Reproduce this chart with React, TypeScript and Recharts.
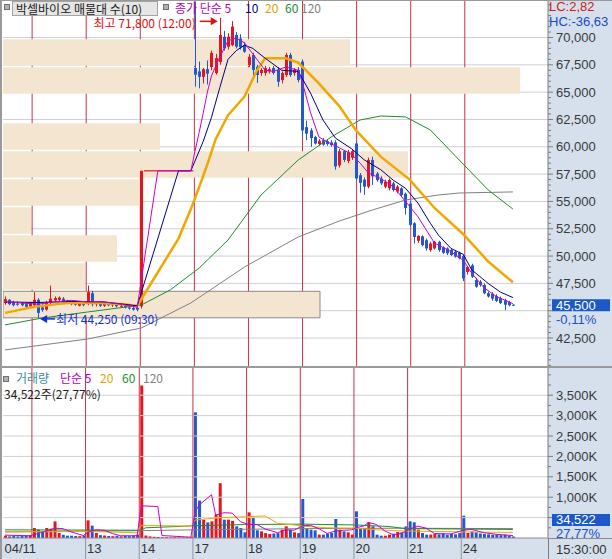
import React from 'react';
import {
    ComposedChart, BarChart, Bar, Line, Cell, XAxis, YAxis, ReferenceLine, ReferenceDot,
} from 'recharts';

// ─── Colours / fonts ───────────────────────────────────────────────────────────
const UP = '#E5141E';
const DOWN = '#2158CF';
const DAY_LINE = '#C8324A';
const GRID = '#D0D0D0';
const PANEL = '#D5E0EC';
const BAND = '#F4E5D1';
const AXIS = '#7C7C7C';
const C_MA5 = '#CC00CC';
const C_MA10 = '#000080';
const C_MA20 = '#F0A800';
const C_MA60 = '#1E8C32';
const C_MA120 = '#808080';
const NUM_FONT = "'Liberation Sans Narrow', 'Liberation Sans', Arial, sans-serif";
const KR_FONT = "'Noto Sans CJK KR', 'Noto Sans', sans-serif";

// ─── 30-minute candles per day: [open, high, low, close] ──────────────────────
const c0411 = [
    [45700, 46300, 45550, 46050], [46000, 46050, 45500, 45600], [45800, 45900, 45400, 45500],
    [45650, 45850, 45450, 45550], [45700, 45800, 45400, 45500], [45600, 45750, 45300, 45350],
    [45400, 45800, 45250, 45700],
];
const c0412 = [
    [45500, 46700, 45300, 46000], [46000, 46150, 44250, 44800], [45300, 45600, 44900, 45050],
    [45100, 45900, 45000, 45750], [45700, 47300, 45600, 46100], [45950, 46300, 45800, 46150],
    [46000, 46300, 45850, 46200], [46100, 46250, 45750, 45850], [45900, 46000, 45600, 45700],
    [45750, 45850, 45500, 45600], [45650, 45800, 45450, 45550], [45450, 45700, 45400, 45650],
    [45600, 45750, 45400, 45500],
];
const c0413 = [
    [45700, 47300, 45500, 46700], [46600, 46800, 45400, 45600], [45600, 45750, 45400, 45700],
    [45650, 45800, 45350, 45450], [45450, 45700, 45350, 45600], [45600, 45700, 45400, 45500],
    [45500, 45650, 45350, 45600], [45600, 45650, 45300, 45400], [45400, 45550, 45250, 45450],
    [45450, 45500, 45200, 45300], [45300, 45450, 45100, 45200], [45250, 45350, 45000, 45100],
    [45250, 45350, 44950, 45100],
];
const c0414 = [
    [45400, 57800, 45200, 57800], [57800, 57800, 57800, 57800], [57800, 57800, 57800, 57800],
    [57800, 57800, 57800, 57800], [57800, 57800, 57800, 57800], [57800, 57800, 57800, 57800],
    [57800, 57800, 57800, 57800], [57800, 57800, 57800, 57800], [57800, 57800, 57800, 57800],
    [57800, 57800, 57800, 57800], [57800, 57800, 57800, 57800], [57800, 57800, 57800, 57800],
    [57800, 57800, 57800, 57800],
];
const c0417 = [
    [67200, 73300, 65500, 66600], [66900, 67800, 65350, 66400], [66400, 67200, 65800, 67100],
    [67100, 67900, 65700, 66700], [67300, 68800, 67000, 68600], [66750, 68500, 66600, 68120],
    [67760, 71800, 67500, 70230], [70070, 70600, 68800, 69010], [69160, 70400, 68900, 70070],
    [69300, 71500, 69200, 71000], [70230, 70500, 69000, 69160], [69900, 70300, 68900, 69100],
    [69310, 69600, 68600, 68700],
];
const c0418 = [
    [67480, 68500, 67300, 68240], [68400, 68600, 66300, 67030], [67330, 67500, 65840, 66570],
    [66750, 67200, 66500, 67030], [66750, 67400, 66500, 67200], [66900, 67300, 66700, 67100],
    [67200, 67400, 66600, 66750], [67030, 67300, 65500, 65950], [66100, 66900, 65800, 66750],
    [66570, 68600, 66400, 68400], [68400, 68600, 66400, 66570], [66750, 67200, 66500, 67030],
    [67030, 67300, 65900, 66110],
];
const c0419 = [
    [67800, 68000, 60900, 61500], [61800, 62400, 60600, 61200], [61500, 61700, 60000, 60800],
    [60900, 61000, 60200, 60300], [60250, 60700, 60100, 60550], [60600, 60800, 60100, 60200],
    [60500, 60700, 60100, 60250], [60400, 60600, 60000, 60150], [60400, 60600, 57900, 58200],
    [58300, 59800, 58100, 59600], [59600, 59700, 58600, 58800], [58700, 59700, 58500, 59500],
    [59000, 59800, 58800, 59600],
];
const c0420 = [
    [60300, 60500, 56900, 57100], [57400, 57600, 55800, 56700], [57000, 57200, 55600, 56350],
    [56350, 59000, 56200, 58800], [58800, 59100, 56500, 57300], [57550, 57700, 56800, 56950],
    [57100, 57300, 56500, 56650], [56350, 57000, 56200, 56800], [56200, 57100, 56000, 56950],
    [56650, 56800, 55900, 56050], [55900, 56500, 55750, 56350], [56200, 56300, 55400, 55600],
    [55700, 55800, 53800, 54400],
];
const c0421 = [
    [54800, 55000, 52700, 52850], [53000, 53100, 51150, 51750], [51400, 51900, 51200, 51850],
    [51800, 51900, 50900, 51000], [51450, 51600, 50500, 50700], [50550, 51300, 50400, 51150],
    [50700, 51400, 50600, 51300], [51300, 51400, 50400, 50550], [50800, 50900, 50200, 50300],
    [50700, 50800, 50100, 50250], [50550, 50700, 50000, 50100], [50400, 50500, 49850, 49950],
    [50300, 50400, 49700, 49800],
];
const c0424 = [
    [50000, 50100, 47700, 47950], [48550, 49100, 48300, 49000], [49150, 49300, 48000, 48100],
    [47800, 48000, 47100, 47200], [47650, 47800, 47200, 47350], [47350, 47500, 46500, 46600],
    [46600, 46750, 46200, 46300], [46550, 46700, 45900, 46100], [46350, 46500, 45800, 45900],
    [46150, 46300, 45600, 45700], [45950, 46100, 45050, 45550], [45800, 45900, 45400, 45500],
    [45550, 45600, 45450, 45500],
];

// ─── Volume per bar, thousands of shares ───────────────────────────────────────
const v0411 = [57, 40, 57, 40, 50, 55, 65];
const v0412 = [245, 204, 163, 245, 230, 408, 122, 80, 57, 57, 50, 45, 60];
const v0413 = [433, 302, 122, 70, 60, 50, 45, 55, 40, 50, 45, 60, 80];
const v0414 = [3738, 60, 40, 30, 25, 20, 20, 15, 20, 15, 15, 20, 30];
const v0417 = [3080, 918, 449, 384, 408, 572, 1343, 449, 449, 420, 286, 245, 139];
const v0418 = [629, 515, 188, 163, 120, 100, 110, 120, 204, 286, 204, 139, 120];
const v0419 = [956, 220, 204, 188, 82, 82, 105, 122, 466, 204, 163, 139, 82];
const v0420 = [654, 245, 245, 384, 286, 82, 57, 57, 82, 105, 147, 139, 286];
const v0421 = [408, 384, 204, 122, 82, 82, 100, 90, 110, 80, 100, 90, 120];
const v0424 = [547, 122, 163, 139, 110, 100, 90, 80, 90, 70, 80, 60, 34.522];

const dayNames = ['04/11', '', '13', '14', '17', '18', '19', '20', '21', '24'];

// ─── Moving averages: [bar index, value] ───────────────────────────────────────
const ma5Pts = [
    [0, 45850], [4, 45700], [8, 45600], [12, 45800], [16, 45950], [20, 45800], [23, 45850], [27, 45650],
    [31, 45400], [32, 45300], [33, 47800], [37, 57800], [45, 57800], [46, 59600], [47, 61300], [48, 63100],
    [49, 65000], [50, 66500], [52, 68200], [54, 69700], [56, 69950], [58, 69500], [60, 68500], [63, 67000],
    [65, 66900], [68, 67300], [71, 67000], [72, 65900], [74, 63100], [76, 60900], [78, 60450], [81, 59900],
    [84, 59300], [86, 58500], [88, 57600], [91, 57100], [94, 56350], [97, 55000], [100, 53600], [102, 52400],
    [104, 51200], [108, 50400], [111, 49600], [113, 48450], [116, 47100], [119, 46300], [123, 45650],
];
const ma10Pts = [
    [0, 45800], [8, 45750], [16, 45850], [24, 45800], [32, 45450], [33, 46650], [42, 57800], [45, 57800],
    [46, 58700], [48, 60500], [50, 62700], [52, 65400], [54, 68000], [56, 68800], [58, 69300], [60, 69000],
    [63, 68100], [67, 67000], [71, 66900], [74, 64900], [77, 62450], [80, 60800], [84, 59800], [87, 58800],
    [91, 57900], [94, 56950], [97, 56200], [100, 54850], [103, 53000], [105, 51900], [108, 50700],
    [111, 50150], [113, 48750], [117, 47500], [120, 46700], [123, 46200],
];
const ma20Pts = [
    [0, 44800], [7, 45350], [15, 45700], [23, 45700], [29, 45600], [32, 45430], [33, 46050], [36, 47900],
    [39, 49750], [42, 51600], [45, 54300], [47, 56300], [49, 58400], [51, 60700], [54, 62900], [58, 64600],
    [61, 67000], [63, 68100], [68, 68100], [71, 67700], [76, 65800], [81, 63700], [85, 61500], [91, 59100],
    [98, 57000], [104, 54400], [111, 52000], [117, 49500], [123, 47600],
];
const ma60Pts = [
    [0, 43700], [9, 44330], [20, 44880], [33, 45520], [40, 46900], [47, 48900], [54, 51470], [62, 55590],
    [71, 58790], [79, 60900], [86, 62450], [91, 62820], [97, 62730], [103, 61540], [110, 58790],
    [117, 56050], [123, 54300],
];
const ma120Pts = [
    [0, 41410], [20, 42410], [33, 43420], [45, 45710], [58, 49000], [71, 51750], [81, 53210], [89, 54220],
    [97, 55130], [105, 55590], [110, 55770], [123, 55870],
];
const vma5Pts = [
    [0, 70], [6, 55], [8, 110], [10, 170], [12, 240], [14, 230], [16, 150], [19, 60], [20, 140], [22, 200],
    [24, 190], [26, 110], [28, 55], [32, 55], [33, 790], [37, 770], [38, 60], [45, 20], [46, 630], [47, 810],
    [50, 1060], [51, 560], [53, 620], [55, 610], [57, 400], [59, 330], [61, 330], [63, 220], [66, 130],
    [68, 200], [70, 190], [72, 300], [74, 310], [76, 230], [78, 110], [80, 170], [82, 190], [84, 200],
    [85, 250], [87, 300], [88, 380], [90, 330], [92, 170], [94, 80], [96, 110], [98, 220], [100, 290],
    [102, 240], [104, 110], [108, 100], [111, 190], [113, 210], [116, 130], [119, 90], [123, 60],
];
const vma20Pts = [
    [0, 150], [20, 160], [32, 130], [33, 310], [45, 290], [46, 440], [52, 500], [58, 520], [63, 540],
    [66, 360], [70, 320], [72, 290], [78, 250], [85, 240], [90, 200], [97, 170], [104, 160], [111, 150],
    [118, 140], [123, 140],
];
const vma60Pts = [
    [0, 200], [33, 190], [34, 250], [46, 300], [58, 330], [72, 340], [85, 320], [93, 280], [97, 230],
    [111, 220], [123, 210],
];
const vma120Pts = [[0, 150], [33, 180], [46, 200], [72, 230], [97, 240], [123, 230]];

// ─── Volume profile (매물대), top band first ───────────────────────────────────
const profileBands = [
    '67,400-69,900', '64,900-67,400', '62,300-64,900', '59,800-62,300', '57,200-59,800',
    '54,700-57,200', '52,100-54,700', '49,500-52,100', '46,900-49,500', '44,300-46,900',
];
const profileVol = [347, 517, 0, 157, 405, 137, 28, 114, 82, 317];
const currentBand = 9;

// ─── Axis ticks ────────────────────────────────────────────────────────────────
const priceLabelTicks = [42500, 45000, 47500, 50000, 52500, 55000, 57500, 60000, 62500, 65000, 67500, 70000];
const priceMinorTicks = Array.from({ length: 67 }, (_, i) => 40000 + i * 500);
const volLabelTicks = [500, 1000, 1500, 2000, 2500, 3000, 3500];
const volMinorTicks = [250, 500, 750, 1000, 1250, 1500, 1750, 2000, 2250, 2500, 2750, 3000, 3250, 3500, 3750, 4000];

const PRICE_MIN = 39940;
const PRICE_MAX = 73340;
const VOL_MAX = 4167;
const LAST_CLOSE = 45500;
const HIGH = { price: 71800, time: '12:00', bar: 52 };
const LOW = { price: 44250, time: '09:30', bar: 8 };
const SLOTS = 132;

// ─── Table ─────────────────────────────────────────────────────────────────────
const dayCandles = [c0411, c0412, c0413, c0414, c0417, c0418, c0419, c0420, c0421, c0424];
const dayVolumes = [v0411, v0412, v0413, v0414, v0417, v0418, v0419, v0420, v0421, v0424];
const candles = dayCandles.flat();
const volumes = dayVolumes.flat();
const dayStarts: number[] = [];
dayCandles.forEach((d, i) => dayStarts.push(i === 0 ? 0 : dayStarts[i - 1] + dayCandles[i - 1].length));
const labelByStart = new Map(dayStarts.map((s, i) => [s, dayNames[i]]));
const labelledStarts = dayStarts.filter((_, i) => dayNames[i] !== '');

const series: Record<string, number[][]> = {
    ma5: ma5Pts, ma10: ma10Pts, ma20: ma20Pts, ma60: ma60Pts, ma120: ma120Pts,
    vma5: vma5Pts, vma20: vma20Pts, vma60: vma60Pts, vma120: vma120Pts,
};

const rows = Array.from({ length: SLOTS }, (_, g) => {
    const row: any = { g };
    const c = candles[g];
    if (c) {
        const [o, h, l, cl] = c;
        const prev = candles[g - 1];
        Object.assign(row, { o, h, l, c: cl, rng: [l, h], vol: volumes[g] });
        row.up = cl > o || (cl === o && (!prev || cl >= prev[3]));
    }
    for (const key of Object.keys(series)) {
        const hit = series[key].find(p => p[0] === g);
        if (hit) row[key] = hit[1];
    }
    return row;
});

const profileRows = profileBands.map((band, i) => ({ band, vol: profileVol[i] }));

const fmt = (v: number) => v.toLocaleString('en-US');

// ─── Shapes ────────────────────────────────────────────────────────────────────
const Candle = (props: any) => {
    const { x, y, width, height, payload } = props;
    if (!payload || payload.h == null) return null;
    const { o, h, l, c, up } = payload;
    const color = up ? UP : DOWN;
    const top = Math.min(y, y + height);
    const span = Math.abs(height);
    const cx = Math.floor(x + width / 2) + 0.5;
    if (h === l || span < 0.5) {
        return <line x1={x - 0.6} x2={x + width + 0.6} y1={top} y2={top} stroke={color} strokeWidth={1.2} />;
    }
    const k = span / (h - l);
    const bTop = top + (h - Math.max(o, c)) * k;
    const bBot = top + (h - Math.min(o, c)) * k;
    return (
        <g>
            <line x1={cx} x2={cx} y1={top} y2={top + span} stroke={color} strokeWidth={1} />
            <rect x={cx - 1.5} y={bTop} width={3} height={Math.max(1, bBot - bTop)} fill={color} />
        </g>
    );
};

const PriceTick = (props: any) => {
    const { x, y, payload } = props;
    const v = payload.value;
    const major = priceLabelTicks.includes(v);
    const hidden = Math.abs(v - LAST_CLOSE) < 1000;
    return (
        <g>
            <line x1={x} x2={x + (major ? 5 : 3)} y1={y} y2={y} stroke={AXIS} />
            {major && !hidden && (
                <text x={x + 8} y={y + 4.5} fontSize={13} fill="#3A3A3A" fontFamily={NUM_FONT}>{fmt(v)}</text>
            )}
        </g>
    );
};

// the current-volume box sits over the lowest label
const VolTick = (props: any) => {
    const { x, y, payload } = props;
    const v = payload.value;
    const major = volLabelTicks.includes(v);
    const covered = v === volLabelTicks[0];
    return (
        <g>
            <line x1={x} x2={x + (major ? 5 : 3)} y1={y} y2={y} stroke={AXIS} />
            {major && !covered && (
                <text x={x + 8} y={y + 4.5} fontSize={13} fill="#3A3A3A" fontFamily={NUM_FONT}>{fmt(v)}K</text>
            )}
        </g>
    );
};

const DayTick = (props: any) => {
    const { x, y, payload, index } = props;
    const half = payload.offset ?? 545 / SLOTS / 2;
    const start = x - half;
    return (
        <g>
            {index > 0 && <line x1={start} x2={start} y1={y} y2={y + 21} stroke="#8C99A6" />}
            <text x={start + 1.5} y={y + 15} fontSize={13} fill="#333" fontFamily={NUM_FONT}>
                {labelByStart.get(payload.value)}
            </text>
        </g>
    );
};

const CurPriceLabel = (props: any) => {
    const vb = props.viewBox || {};
    const x = vb.x + vb.width;
    const y = vb.y;
    return (
        <g>
            <rect x={x + 4} y={y - 6} width={58} height={12} fill="#1C58C8" />
            <text x={x + 8} y={y + 4.5} fontSize={13} fill="#FFFFFF" fontFamily={NUM_FONT}>{fmt(LAST_CLOSE)}</text>
            <text x={x + 8} y={y + 18.5} fontSize={13} fill="#1F4FC8" fontFamily={NUM_FONT}>-0,11%</text>
        </g>
    );
};

const HighLabel = (props: any) => {
    const vb = props.viewBox || {};
    const cx = vb.x + (vb.width || 0) / 2;
    const cy = vb.y + (vb.height || 0) / 2;
    return (
        <g>
            <text x={cx - 24} y={cy + 10} textAnchor="end" fontSize={12} fill="#E01010" fontFamily={KR_FONT}>
                {`최고 ${fmt(HIGH.price)} (${HIGH.time})`}
            </text>
            <line x1={cx - 20} x2={cx - 8} y1={cy + 3.5} y2={cy + 3.5} stroke="#E01010" strokeWidth={1.5} />
            <polygon points={`${cx - 2},${cy + 3.5} ${cx - 9},${cy - 0.5} ${cx - 9},${cy + 7.5}`} fill="#E01010" />
        </g>
    );
};

const LowLabel = (props: any) => {
    const vb = props.viewBox || {};
    const cx = vb.x + (vb.width || 0) / 2;
    const cy = vb.y + (vb.height || 0) / 2;
    return (
        <g>
            <polygon points={`${cx + 2},${cy} ${cx + 9},${cy - 4} ${cx + 9},${cy + 4}`} fill="#1030D8" />
            <line x1={cx + 8} x2={cx + 17} y1={cy} y2={cy} stroke="#1030D8" strokeWidth={1.5} />
            <text x={cx + 18} y={cy + 5} fontSize={12} fill="#1030D8" fontFamily={KR_FONT}>
                {`최저 ${fmt(LOW.price)} (${LOW.time})`}
            </text>
        </g>
    );
};

const maLine = (key: string, color: string, width = 1) => (
    <Line key={key} dataKey={key} stroke={color} strokeWidth={width} dot={false} activeDot={false}
        connectNulls isAnimationActive={false} />
);

const abs = (left: number, top: number, extra: React.CSSProperties = {}): React.CSSProperties =>
    ({ position: 'absolute', left, top, ...extra });

// ─── Main component ────────────────────────────────────────────────────────────
export default function App() {
    const krText = { fontFamily: KR_FONT, fontSize: 12, lineHeight: '12px', whiteSpace: 'nowrap' as const };
    const numText = { fontFamily: NUM_FONT, fontSize: 13, lineHeight: '11px', whiteSpace: 'nowrap' as const };
    return (
        <div style={{ position: 'absolute', left: 0, top: 0, width: 612, height: 559, overflow: 'hidden', background: '#FFFFFF' }}>
            <div style={abs(548, 0, { width: 64, height: 559, background: PANEL })} />
            <div style={abs(0, 538, { width: 548, height: 21, background: PANEL })} />

            {/* grid + day separators */}
            <div style={abs(0, 0)}>
                <ComposedChart width={612} height={367} data={rows} margin={{ top: 1, right: 64, bottom: 1, left: 3 }}>
                    <XAxis dataKey="g" hide />
                    <YAxis hide domain={[PRICE_MIN, PRICE_MAX]} allowDataOverflow />
                    {priceLabelTicks.map(v => <ReferenceLine key={v} y={v} stroke={GRID} />)}
                    {dayStarts.slice(1).map(g => <ReferenceLine key={g} x={g} position="start" stroke={DAY_LINE} />)}
                    <Line dataKey="c" stroke="none" dot={false} isAnimationActive={false} />
                </ComposedChart>
            </div>

            {/* volume profile bands */}
            <div style={abs(0, 0)}>
                <BarChart width={612} height={367} data={profileRows} layout="vertical"
                    margin={{ top: 38.3, right: 64, bottom: 48.7, left: 3 }}>
                    <XAxis type="number" hide domain={[0, 545]} allowDataOverflow />
                    <YAxis type="category" dataKey="band" hide />
                    <Bar dataKey="vol" barSize={26.5} isAnimationActive={false}>
                        {profileRows.map((_, i) => (
                            <Cell key={i} fill={BAND} stroke={i === currentBand ? '#8A8A8A' : 'none'} />
                        ))}
                    </Bar>
                </BarChart>
            </div>

            {/* price: candles + moving averages */}
            <div style={abs(0, 0)}>
                <ComposedChart width={612} height={367} data={rows} margin={{ top: 1, right: 0, bottom: 1, left: 3 }}>
                    <XAxis dataKey="g" hide />
                    <YAxis orientation="right" width={64} domain={[PRICE_MIN, PRICE_MAX]} allowDataOverflow
                        ticks={priceMinorTicks} interval={0} tickLine={false} tickSize={0} tickMargin={0}
                        axisLine={{ stroke: AXIS }} tick={<PriceTick />} />
                    {maLine('ma120', C_MA120)}
                    {maLine('ma60', C_MA60)}
                    <Bar dataKey="rng" barSize={3} isAnimationActive={false} shape={(p: any) => <Candle {...p} />} />
                    {maLine('ma20', C_MA20, 2.5)}
                    {maLine('ma10', C_MA10)}
                    {maLine('ma5', C_MA5)}
                    <ReferenceLine y={LAST_CLOSE} stroke="none" label={<CurPriceLabel />} />
                    <ReferenceDot x={HIGH.bar} y={HIGH.price} r={0} label={<HighLabel />} />
                    <ReferenceDot x={LOW.bar} y={LOW.price} r={0} label={<LowLabel />} />
                </ComposedChart>
            </div>

            {/* volume */}
            <div style={abs(0, 368)}>
                <ComposedChart width={612} height={191} data={rows} margin={{ top: 0, right: 0, bottom: 0, left: 3 }}>
                    <XAxis dataKey="g" height={21} ticks={labelledStarts} interval={0} tickLine={false}
                        tickSize={0} tickMargin={0} axisLine={{ stroke: '#8A8A8A' }} tick={<DayTick />} />
                    <YAxis orientation="right" width={64} domain={[0, VOL_MAX]} allowDataOverflow
                        ticks={volMinorTicks} interval={0} tickLine={false} tickSize={0} tickMargin={0}
                        axisLine={{ stroke: AXIS }} tick={<VolTick />} />
                    {volLabelTicks.map(v => <ReferenceLine key={v} y={v} stroke={GRID} />)}
                    {dayStarts.slice(1).map(g => <ReferenceLine key={g} x={g} position="start" stroke={DAY_LINE} />)}
                    <Bar dataKey="vol" barSize={3} isAnimationActive={false}>
                        {rows.map(r => <Cell key={r.g} fill={r.up ? UP : DOWN} />)}
                    </Bar>
                    {maLine('vma120', C_MA120)}
                    {maLine('vma60', C_MA60)}
                    {maLine('vma20', C_MA20)}
                    {maLine('vma5', C_MA5)}
                </ComposedChart>
            </div>

            {/* frame lines */}
            <div style={abs(0, 0, { width: 612, height: 1, background: '#9A9A9A' })} />
            <div style={abs(0, 0, { width: 2, height: 559, background: '#9A9A9A' })} />
            <div style={abs(0, 366, { width: 612, height: 2, background: '#9A9A9A' })} />
            <div style={abs(548, 538, { width: 1, height: 21, background: AXIS })} />
            <div style={abs(548, 538, { width: 64, height: 1, background: '#8A8A8A' })} />

            {/* price legend */}
            <div style={abs(4, 4, { width: 4, height: 4, background: '#B0B0B0', border: '1px solid #707070' })} />
            <div style={abs(12, 1, { width: 141, height: 13, background: '#E6E6E6', border: '1px solid #A4A4A4', ...krText, lineHeight: '13px', color: '#202020', paddingLeft: 3 })}>
                박셀바이오 매물대 수(10)
            </div>
            <div style={abs(163, 4, { width: 4, height: 4, background: '#B0B0B0', border: '1px solid #707070' })} />
            <span style={abs(175, 2, { ...krText, color: '#B400B4' })}>종가 단순 5</span>
            <span style={abs(245, 2, { ...krText, color: C_MA10 })}>10</span>
            <span style={abs(265, 2, { ...krText, color: '#E0A000' })}>20</span>
            <span style={abs(285, 2, { ...krText, color: C_MA60 })}>60</span>
            <span style={abs(301, 2, { ...krText, color: '#808080' })}>120</span>

            <span style={abs(549, 1, { ...numText, color: '#D01818' })}>LC:2,82</span>
            <span style={abs(549, 16, { ...numText, color: '#1848C8' })}>HC:-36,63</span>

            {/* volume legend */}
            <div style={abs(3, 376, { width: 4, height: 4, background: '#B0B0B0', border: '1px solid #707070' })} />
            <span style={abs(16, 372, { ...krText, color: '#3C8CA0' })}>거래량</span>
            <span style={abs(60, 372, { ...krText, color: '#B400B4' })}>단순 5</span>
            <span style={abs(100, 372, { ...krText, color: '#E0A000' })}>20</span>
            <span style={abs(122, 372, { ...krText, color: C_MA60 })}>60</span>
            <span style={abs(143, 372, { ...krText, color: '#808080' })}>120</span>
            <span style={abs(4, 388, { ...krText, color: '#202020' })}>34,522주(27,77%)</span>

            {/* current volume */}
            <div style={abs(552, 514, { width: 58, height: 12, background: '#1C58C8', color: '#FFFFFF', ...numText, lineHeight: '12px', paddingLeft: 4, boxSizing: 'border-box' })}>34,522</div>
            <span style={abs(556, 528, { ...numText, color: '#1F4FC8' })}>27,77%</span>
            <span style={abs(556, 544, { ...numText, color: '#333' })}>15:30:00</span>
        </div>
    );
}
